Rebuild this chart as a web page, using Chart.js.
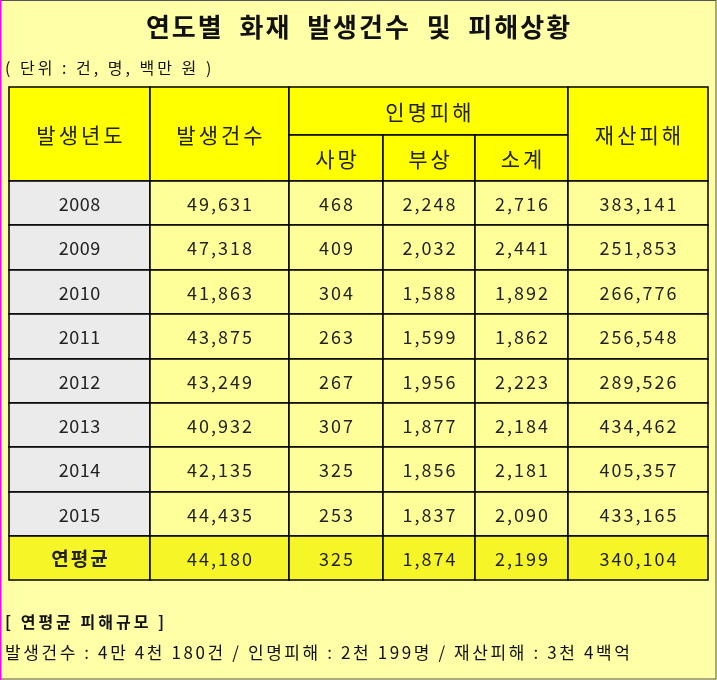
<!DOCTYPE html>
<html><head><meta charset="utf-8">
<script src="https://cdn.jsdelivr.net/npm/chart.js@4"></script>
<style>
html,body{margin:0;padding:0;background:#ffffa8;}
#wrap{width:717px;height:680px;position:relative;}
</style></head>
<body><div id="wrap"><canvas id="myChart"></canvas></div>
<script>
const years = ['2008','2009','2010','2011','2012','2013','2014','2015','연평균'];
const counts = ['49,631','47,318','41,863','43,875','43,249','40,932','42,135','44,435','44,180'];
const deaths = ['468','409','304','263','267','307','325','253','325'];
const injuries = ['2,248','2,032','1,588','1,599','1,956','1,877','1,856','1,837','1,874'];
const subtotal = ['2,716','2,441','1,892','1,862','2,223','2,184','2,181','2,090','2,199'];
const property = ['383,141','251,853','266,776','256,548','289,526','434,462','405,357','433,165','340,104'];

// grid lines in scale units (page pixels)
const colX = [9,150,289,383,475,568,708];
const rowY = [87,135,181,225,270,314,359,403,447,492,536,580];
const KR = '"Noto Sans CJK KR", sans-serif';

const tablePlugin = {
  id: 'table',
  afterDraw(chart) {
    const c = chart.ctx, xs = chart.scales.x, ys = chart.scales.y;
    const X = v => xs.getPixelForValue(v), Y = v => ys.getPixelForValue(v);
    function txt(s, x, y, font, sp, align) {
      c.font = font; c.letterSpacing = sp + 'px';
      c.textAlign = align; c.textBaseline = 'middle';
      // letterSpacing adds trailing space; compensate when centred
      c.fillText(s, align === 'center' ? x + sp / 2 : x, y);
    }
    function cell(x0,y0,x1,y1,fill,text,font,sp){
      c.fillStyle = fill;
      c.fillRect(X(x0),Y(y0),X(x1)-X(x0),Y(y1)-Y(y0));
      c.strokeStyle = '#000'; c.lineWidth = 1.5;
      c.strokeRect(X(x0),Y(y0),X(x1)-X(x0),Y(y1)-Y(y0));
      c.fillStyle = '#222';
      txt(text,(X(x0)+X(x1))/2,(Y(y0)+Y(y1))/2+1,font,sp,'center');
    }
    // border + title
    c.strokeStyle = '#555'; c.lineWidth = 1;
    c.strokeRect(X(0.5),Y(0.5),X(716)-X(0.5),Y(679)-Y(0.5));
    c.fillStyle = '#111';
    txt('연도별  화재  발생건수  및  피해상황', X(358), Y(27), 'bold 26px ' + KR, 2, 'center');
    c.fillStyle = '#111';
    txt('( 단위 : 건, 명, 백만 원 )', X(5), Y(68), '16px ' + KR, 3, 'left');
    // header
    const hf = '21px ' + KR, hy = '#ffff00';
    cell(colX[0],rowY[0],colX[1],rowY[2],hy,'발생년도',hf,3);
    cell(colX[1],rowY[0],colX[2],rowY[2],hy,'발생건수',hf,3);
    cell(colX[2],rowY[0],colX[5],rowY[1],hy,'인명피해',hf,3);
    cell(colX[2],rowY[1],colX[3],rowY[2],hy,'사망',hf,3);
    cell(colX[3],rowY[1],colX[4],rowY[2],hy,'부상',hf,3);
    cell(colX[4],rowY[1],colX[5],rowY[2],hy,'소계',hf,3);
    cell(colX[5],rowY[0],colX[6],rowY[2],hy,'재산피해',hf,3);
    // body
    const df = '18px ' + KR;
    years.forEach((yr,i) => {
      const avg = i === years.length-1;
      const y0 = rowY[i+2], y1 = rowY[i+3];
      const body = avg ? '#f5f528' : '#ffff99';
      cell(colX[0],y0,colX[1],y1, avg ? '#f5f528' : '#ebebeb', yr, avg ? 'bold 19px '+KR : df, avg ? 2 : 0.5);
      [counts,deaths,injuries,subtotal,property].forEach((arr,j) => {
        cell(colX[j+1],y0,colX[j+2],y1,body,arr[i],df,2);
      });
    });
    // footer
    c.fillStyle = '#111';
    txt('[ 연평균 피해규모 ]', X(5), Y(622), 'bold 16px ' + KR, 3, 'left');
    txt('발생건수 : 4만 4천 180건 / 인명피해 : 2천 199명 / 재산피해 : 3천 4백억', X(5), Y(653), '17px ' + KR, 2.6, 'left');
    c.letterSpacing = '0px';
    // magenta left edge
    c.fillStyle = '#ff00ff'; c.fillRect(X(0),Y(0),1.5,Y(680)-Y(0));
  }
};

new Chart(document.getElementById('myChart'), {
  type: 'scatter',
  data: { datasets: [{ data: [] }] },
  options: {
    responsive: true, maintainAspectRatio: false, animation: false,
    layout: { padding: 0 },
    plugins: { legend: { display: false }, tooltip: { enabled: false } },
    scales: {
      x: { type: 'linear', min: 0, max: 717, display: false },
      y: { type: 'linear', min: 0, max: 680, reverse: true, display: false }
    }
  },
  plugins: [tablePlugin]
});
</script></body></html>
